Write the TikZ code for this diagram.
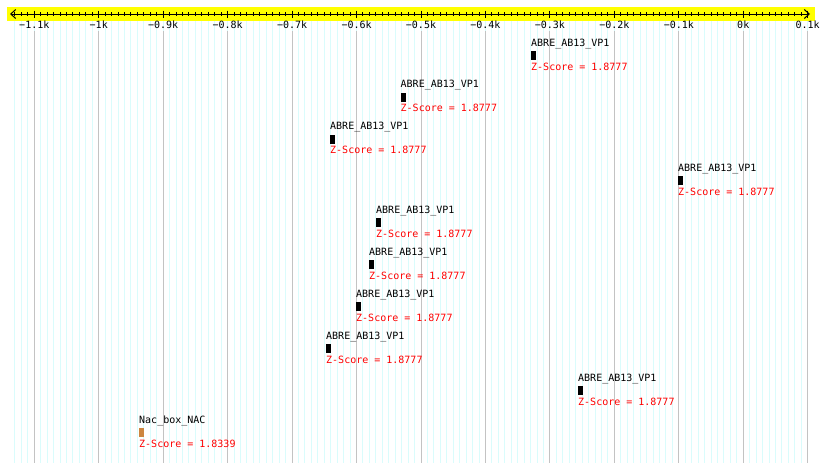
\documentclass[tikz,border=0pt]{standalone}
\usepackage{fontspec}
\setmonofont{DejaVu Sans Mono}
\usetikzlibrary{arrows.meta}
\definecolor{minorgridc}{RGB}{218,252,252}
\definecolor{majorgridc}{RGB}{195,195,195}
\definecolor{nacbrown}{RGB}{205,133,63}
\definecolor{bandyellow}{RGB}{255,255,0}
\begin{document}
\begin{tikzpicture}[x=1pt,y=-1pt,
  lbl/.style={font=\ttfamily\fontsize{10}{12}\selectfont, inner sep=0pt, anchor=base west},
  zlbl/.style={lbl, text=red},
  ticklbl/.style={font=\ttfamily\fontsize{10}{12}\selectfont, inner sep=0pt, anchor=base},
  hitbox/.style={draw=none, minimum width=5pt, minimum height=9pt, inner sep=0pt, anchor=north west},
  minorgrid/.style={draw=minorgridc, line width=1pt},
  majorgrid/.style={draw=majorgridc, line width=1pt},
  axisline/.style={draw=black, line width=1pt},
  tickmark/.style={draw=black, line width=1pt},
]
\useasboundingbox[fill=white] (0,0) rectangle (820,463);
% minor grid
\foreach \i in {-113,...,10} {
  \draw[minorgrid] ({34.3+(\i+110)*6.445},21) -- ({34.3+(\i+110)*6.445},463);
}
% major grid
\foreach \i in {-11,...,1} {
  \draw[majorgrid] ({34.3+(\i+11)*64.45},31) -- ({34.3+(\i+11)*64.45},463);
}
% axis band
\fill[bandyellow] (7,7) rectangle (815,21);
\coordinate (axL) at (10,14);
\coordinate (axR) at (810,14);
\draw[axisline, {Straight Barb[length=5pt,width=9pt]}-{Straight Barb[length=5pt,width=9pt]}] (axL) -- (axR);
% minor ticks
\foreach \i in {-113,...,10} {
  \draw[tickmark] ({34.3+(\i+110)*6.445},12) -- ({34.3+(\i+110)*6.445},16);
}
% major ticks and labels
\foreach \i/\t in {-11/{−1.1k},-10/{−1k},-9/{−0.9k},-8/{−0.8k},-7/{−0.7k},-6/{−0.6k},-5/{−0.5k},-4/{−0.4k},-3/{−0.3k},-2/{−0.2k},-1/{−0.1k},0/{0k},1/{0.1k}} {
  \draw[tickmark] ({34.3+(\i+11)*64.45},10.5) -- ({34.3+(\i+11)*64.45},17.5);
  \node[ticklbl] (tick\i) at ({34.3+(\i+11)*64.45},28.5) {\t};
}
% features
\foreach \n/\x/\b/\t/\z/\c in {
  1/531/46/{ABRE\_AB13\_VP1}/1.8777/black,
  2/400.5/87.9/{ABRE\_AB13\_VP1}/1.8777/black,
  3/330/129.8/{ABRE\_AB13\_VP1}/1.8777/black,
  4/678/171.7/{ABRE\_AB13\_VP1}/1.8777/black,
  5/376/213.6/{ABRE\_AB13\_VP1}/1.8777/black,
  6/369/255.5/{ABRE\_AB13\_VP1}/1.8777/black,
  7/356/297.4/{ABRE\_AB13\_VP1}/1.8777/black,
  8/326/339.3/{ABRE\_AB13\_VP1}/1.8777/black,
  9/578/381.2/{ABRE\_AB13\_VP1}/1.8777/black,
  10/139/423.1/{Nac\_box\_NAC}/1.8339/nacbrown} {
  \node[lbl] (name\n) at (\x,\b) {\t};
  \node[hitbox, fill=\c] (box\n) at (\x,{\b+4.5}) {};
  \node[zlbl] (z\n) at (\x,{\b+24}) {Z-Score = \z};
}
\end{tikzpicture}
\end{document}
